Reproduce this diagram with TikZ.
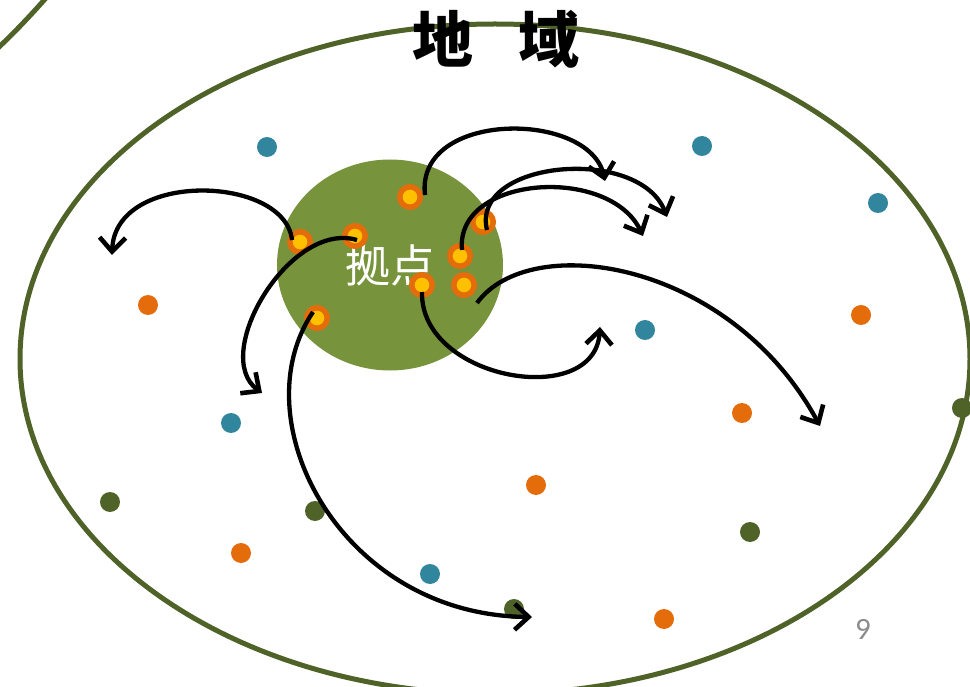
\documentclass[tikz,border=0pt]{standalone}
\usepackage{fontspec}
\newfontfamily\cjk{Noto Sans CJK JP}
\newfontfamily\numfont{Carlito}
\usetikzlibrary{arrows.meta, shapes.geometric}
\definecolor{olive}{HTML}{4F6228}
\definecolor{basegreen}{HTML}{77933C}
\definecolor{dteal}{HTML}{31859C}
\definecolor{dorange}{HTML}{E46C0A}
\definecolor{dyellow}{HTML}{FFC000}
\definecolor{pgray}{HTML}{8C8C8C}
\tikzset{
  dot/.style={circle, inner sep=0pt, minimum size=20pt, fill=#1},
  basedot/.style={circle, inner sep=0pt, minimum size=20.5pt, fill=dyellow, draw=dorange, line width=5.5pt},
  flow/.style={line width=4.3pt, -{Straight Barb[length=14pt, width=26pt, line width=4.6pt]}},
}
\begin{document}
\begin{tikzpicture}[x=1pt, y=-1pt]
\path[use as bounding box, clip] (0,0) rectangle (970,687);
\fill[white] (0,0) rectangle (970,687);
% region ellipse
\draw[olive, line width=5pt] (495,359) ellipse [x radius=475pt, y radius=335pt];
\draw[olive, line width=5pt] (-2,48) .. controls (15,32) and (30,16) .. (46,-2);
% scattered dots
\foreach \n/\x/\y in {t1/267/147, t2/702/146, t3/878/203, t4/645/330, t5/231/423, t6/430/574}
  \node[dot=dteal] (\n) at (\x,\y) {};
\foreach \n/\x/\y in {o1/148/305, o2/861/315, o3/742/413, o4/536/485, o5/241/553, o6/664/619}
  \node[dot=dorange] (\n) at (\x,\y) {};
\foreach \n/\x/\y in {g1/110/502, g2/315/511, g3/750/532, g4/514/609, g5/962/408}
  \node[dot=olive] (\n) at (\x,\y) {};
% base
\node[ellipse, inner sep=0pt, minimum width=226pt, minimum height=211pt, fill=basegreen] (base) at (390,265) {};
\node[text=white, font=\cjk\fontsize{45}{48}\selectfont, inner sep=0pt] (baselabel) at (390,265) {拠点};
\foreach \n/\x/\y in {b1/410/197, b2/300/242, b3/355/236, b4/483/222, b5/460/256, b6/464/285, b7/422/285, b8/317/318}
  \node[basedot] (\n) at (\x,\y) {};
% arrow ends
\coordinate (s1) at (292,240); \coordinate (e1) at (112,255);
\coordinate (s2) at (357,240); \coordinate (e2) at (262,393);
\coordinate (s3) at (313,312); \coordinate (e3) at (532,617);
\coordinate (s4) at (425,195); \coordinate (e4) at (605,181);
\coordinate (s5) at (487,230); \coordinate (e5) at (667,217);
\coordinate (s6) at (462,250); \coordinate (e6) at (643,236);
\coordinate (s7) at (422,292); \coordinate (e7) at (600,327);
\coordinate (s8) at (477,303); \coordinate (e8) at (820,426);
\draw[flow] (s1) .. controls (285,175) and (115,170) .. (e1);
\draw[flow] (s2) .. controls (290,220) and (210,355) .. (e2);
\draw[flow] (s3) .. controls (240,420) and (340,615) .. (e3);
\draw[flow] (s4) .. controls (415,110) and (590,110) .. (e4);
\draw[flow] (s5) .. controls (470,160) and (640,145) .. (e5);
\draw[flow] (s6) .. controls (455,175) and (610,165) .. (e6);
\draw[flow] (s7) .. controls (420,380) and (595,410) .. (e7);
\draw[flow] (s8) .. controls (530,230) and (730,260) .. (e8);
% title and page number
\node[font=\cjk\bfseries\fontsize{61}{64}\selectfont, inner sep=0pt] (title) at (496,39) {地\hspace{46pt}域};
\node[text=pgray, font=\numfont\fontsize{31}{34}\selectfont, inner sep=0pt] (pnum) at (863,629) {9};
\end{tikzpicture}
\end{document}
